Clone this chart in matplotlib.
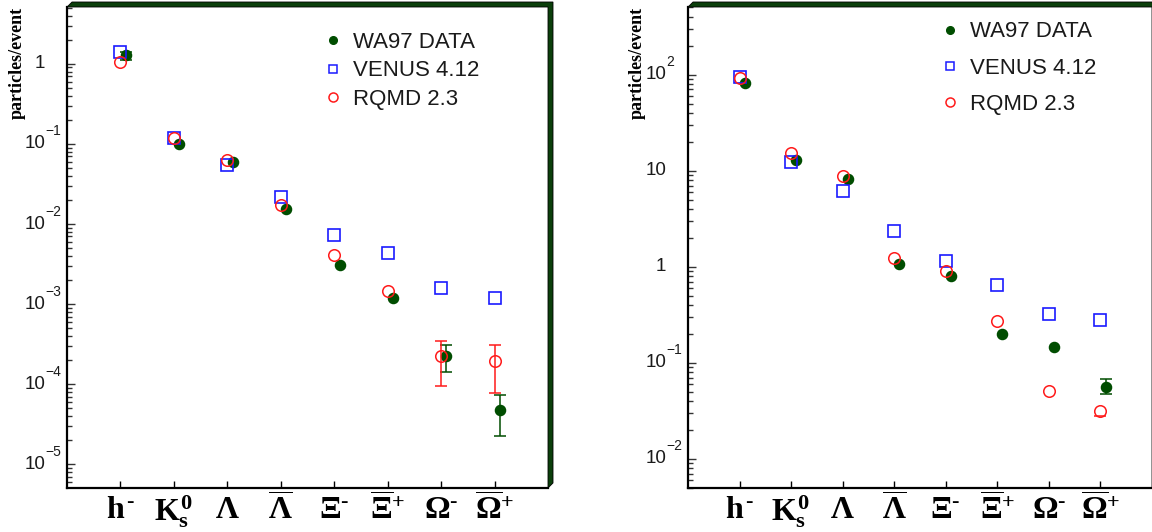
import numpy as np
import matplotlib
matplotlib.use("Agg")
import matplotlib.pyplot as plt
from matplotlib.patches import Polygon
from matplotlib.ticker import LogLocator, NullFormatter, FixedLocator
from matplotlib.lines import Line2D

plt.rcParams['mathtext.fontset'] = 'custom'
plt.rcParams['mathtext.rm'] = 'Liberation Serif:bold'
plt.rcParams['mathtext.it'] = 'Liberation Serif:bold'
plt.rcParams['mathtext.bf'] = 'Liberation Serif:bold'

# ---------------- data ----------------
categories = [r'$h^{\text{-}}$', r'$K_{s}^{0}$', r'$\Lambda$', r'$\overline{\Lambda}$',
              r'$\Xi^{\text{-}}$', r'$\overline{\Xi}^{+}$', r'$\Omega^{\text{-}}$',
              r'$\overline{\Omega}^{+}$']
series_labels = ['WA97 DATA', 'VENUS 4.12', 'RQMD 2.3']

# left panel
left_wa97 = [1.29, 0.099, 0.060, 0.0155, 0.0031, 0.00118, 2.25e-4, 4.7e-5]
left_wa97_lo = [1.13, np.nan, np.nan, np.nan, np.nan, np.nan, 1.42e-4, 2.25e-5]
left_wa97_hi = [1.40, np.nan, np.nan, np.nan, np.nan, np.nan, 3.1e-4, 7.3e-5]
left_venus = [1.41, 0.119, 0.0547, 0.0219, 0.00725, 0.0044, 0.0016, 0.0012]
left_rqmd = [1.05, 0.118, 0.063, 0.0171, 0.00416, 0.00147, 2.25e-4, 1.93e-4]
left_rqmd_lo = [np.nan, np.nan, np.nan, np.nan, np.nan, np.nan, 9.5e-5, 7.8e-5]
left_rqmd_hi = [np.nan, np.nan, np.nan, np.nan, np.nan, np.nan, 3.5e-4, 3.05e-4]
left_ylim = (5.06e-6, 5.12)
left_major = [1e-5, 1e-4, 1e-3, 1e-2, 1e-1, 1]
left_major_text = [('10', '\u22125'), ('10', '\u22124'), ('10', '\u22123'),
                   ('10', '\u22122'), ('10', '\u22121'), ('1', '')]

# right panel
right_wa97 = [81.6, 12.8, 8.2, 1.08, 0.81, 0.201, 0.148, 0.0567]
right_wa97_lo = [np.nan, np.nan, np.nan, np.nan, np.nan, np.nan, np.nan, 0.047]
right_wa97_hi = [np.nan, np.nan, np.nan, np.nan, np.nan, np.nan, np.nan, 0.068]
right_venus = [94.4, 12.4, 6.14, 2.37, 1.15, 0.64, 0.323, 0.281]
right_rqmd = [93.0, 15.1, 8.7, 1.22, 0.90, 0.274, 0.051, 0.0315]
right_rqmd_lo = [np.nan, np.nan, np.nan, np.nan, np.nan, np.nan, np.nan, 0.0281]
right_rqmd_hi = [np.nan, np.nan, np.nan, np.nan, np.nan, np.nan, np.nan, np.nan]
right_ylim = (4.99e-3, 505.0)
right_major = [1e-2, 1e-1, 1, 10, 100]
right_major_text = [('10', '\u22122'), ('10', '\u22121'), ('1', ''), ('10', ''), ('10', '2')]

GREEN = '#004d00'
FRAME = '#0b3f0b'
BLUE = '#1a1aff'
RED = '#ff1a1a'
TXT = '#1a1a1a'

W, H = 1152, 532
fig = plt.figure(figsize=(W / 100, H / 100), dpi=100)


def yerr_of(vals, lo, hi):
    v = np.asarray(vals, float)
    return np.vstack([v - np.asarray(lo, float), np.asarray(hi, float) - v])


def panel(rect_px, wa, wa_lo, wa_hi, ve, rq, rq_lo, rq_hi, ylim, majors, major_text,
          leg_anchor, leg_spacing, ylabel_x):
    x0, y0, w, h = rect_px
    ax = fig.add_axes([x0 / W, y0 / H, w / W, h / H])
    x = np.arange(len(categories))
    ax.set_yscale('log')
    ax.set_xlim(-1, 8)
    ax.set_ylim(*ylim)

    ax.errorbar(x + 0.1, wa, yerr=yerr_of(wa, wa_lo, wa_hi), fmt='o', color=GREEN,
                ms=7.3, mec=GREEN, elinewidth=1.1, capsize=4, capthick=1.1, zorder=3)
    ax.plot(x, ve, 's', ms=8, mfc='none', mec=BLUE, mew=1.2, zorder=4)
    ax.errorbar(x, rq, yerr=yerr_of(rq, rq_lo, rq_hi), fmt='o', color=RED, ms=8.3,
                mfc='none', mec=RED, mew=1.1, elinewidth=1.1, capsize=4, capthick=1.1,
                zorder=5)

    # axes styling
    for s in ['top', 'right']:
        ax.spines[s].set_visible(False)
    for s in ['left', 'bottom']:
        ax.spines[s].set_linewidth(1.6)
        ax.spines[s].set_color('black')
    dx, dy = 5.0 / w, 5.0 / h
    poly = Polygon([(0, 1), (dx, 1 + dy), (1 + dx, 1 + dy), (1 + dx, dy), (1, 0), (1, 1)],
                   closed=True, transform=ax.transAxes, facecolor=FRAME,
                   edgecolor='black', linewidth=0.6, clip_on=False, zorder=6)
    ax.add_patch(poly)

    ax.set_xticks(x)
    ax.set_xticklabels(categories, fontsize=23, color='black')
    ax.tick_params(axis='x', direction='in', length=5, width=1, top=False, pad=4)

    ax.yaxis.set_major_locator(FixedLocator(majors))
    ax.yaxis.set_minor_locator(LogLocator(base=10, subs=np.arange(2, 10), numticks=50))
    ax.yaxis.set_major_formatter(NullFormatter())
    ax.yaxis.set_minor_formatter(NullFormatter())
    ax.tick_params(axis='y', which='major', direction='in', length=6, width=1,
                   color='#333333', right=False)
    ax.tick_params(axis='y', which='minor', direction='in', length=3.5, width=1,
                   color='#333333', right=False)

    for v, (base, ex) in zip(majors, major_text):
        ax.annotate(base, xy=(0, v), xycoords=('axes fraction', 'data'),
                    xytext=(-15.5, 0), textcoords='offset points', ha='right',
                    va='center', fontsize=13.5, color=TXT, family='Liberation Sans',
                    annotation_clip=False)
        if ex:
            ax.annotate(ex, xy=(0, v), xycoords=('axes fraction', 'data'),
                        xytext=(-15.5, 9), textcoords='offset points', ha='left',
                        va='center', fontsize=10, color=TXT, family='Liberation Sans',
                        annotation_clip=False)

    handles = [Line2D([], [], ls='none', marker='o', ms=5.5, color=GREEN),
               Line2D([], [], ls='none', marker='s', ms=6, mfc='none', mec=BLUE, mew=1.1),
               Line2D([], [], ls='none', marker='o', ms=6.5, mfc='none', mec=RED, mew=1.1)]
    leg = ax.legend(handles, series_labels, loc='upper left', bbox_to_anchor=leg_anchor,
                    frameon=False, handlelength=0.6, handletextpad=0.6,
                    labelspacing=leg_spacing, borderpad=0, borderaxespad=0,
                    prop={'family': 'Liberation Sans', 'size': 16})
    for t in leg.get_texts():
        t.set_color(TXT)

    fig.text(ylabel_x / W, 1 - 7 / H, 'particles/event', rotation=90, ha='center',
             va='top', fontsize=13, family='Liberation Serif', fontweight='bold')
    return ax


panel((67, 44, 481, 481), left_wa97, left_wa97_lo, left_wa97_hi, left_venus,
      left_rqmd, left_rqmd_lo, left_rqmd_hi, left_ylim, left_major, left_major_text,
      (0.54, 0.948), 0.33, 17.5)
panel((688, 44, 464, 481), right_wa97, right_wa97_lo, right_wa97_hi, right_venus,
      right_rqmd, right_rqmd_lo, right_rqmd_hi, right_ylim, right_major, right_major_text,
      (0.55, 0.97), 0.68, 637.5)

fig.savefig('out.png', dpi=100)
